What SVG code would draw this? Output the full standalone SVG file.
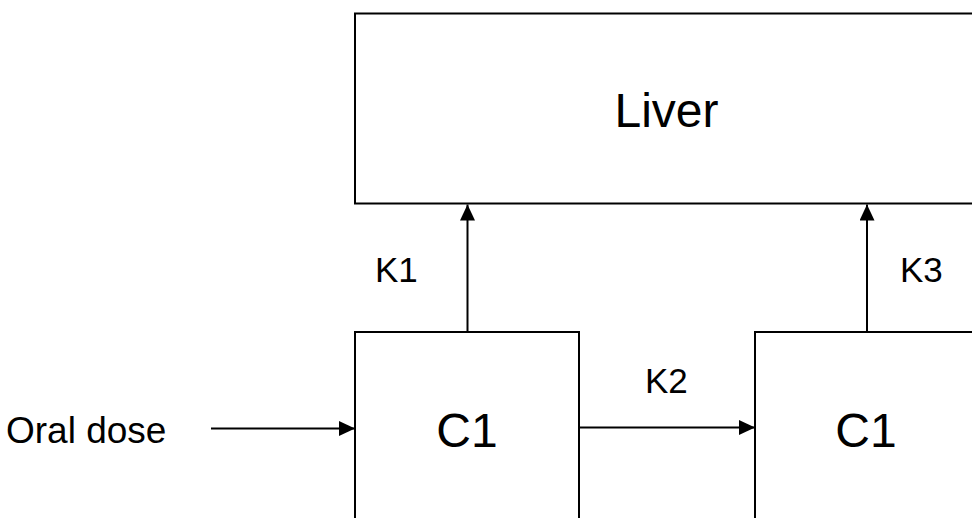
<svg xmlns="http://www.w3.org/2000/svg" width="972" height="518" viewBox="0 0 972 518">
<style>
.box{fill:#fff;stroke:#000;stroke-width:2}
.lbl{font-family:"Liberation Sans",Arial,sans-serif;fill:#000}
.big{font-size:48px;text-anchor:middle}
.k{font-size:35px}
.edge{stroke:#000;stroke-width:2;fill:none;marker-end:url(#ah)}
</style>
<defs>
<marker id="ah" markerWidth="16" markerHeight="15" refX="16" refY="7.5" orient="auto" markerUnits="userSpaceOnUse">
<path d="M0,0 L16,7.5 L0,15 Z" fill="#000"/>
</marker>
</defs>
<rect width="972" height="518" fill="#fff"/>
<g id="liver">
<rect class="box" x="355" y="13.5" width="623" height="190" stroke-width="2.5"/>
<text class="lbl big" x="666.5" y="127">Liver</text>
</g>
<g id="c1a">
<rect class="box" x="355" y="332" width="224" height="200"/>
<text class="lbl big" x="467" y="447">C1</text>
</g>
<g id="c1b">
<rect class="box" x="755" y="332" width="240" height="200"/>
<text class="lbl big" x="866" y="447">C1</text>
</g>
<g id="oral">
<text class="lbl" x="6" y="443" font-size="37">Oral dose</text>
</g>
<g id="connectors">
<line class="edge" x1="211" y1="428.5" x2="355" y2="428.5"/>
<line class="edge" x1="579" y1="427.5" x2="755" y2="427.5"/>
<line class="edge" x1="467.5" y1="332" x2="467.5" y2="204.5"/>
<line class="edge" x1="867" y1="332" x2="867" y2="204.5"/>
<text class="lbl k" x="375" y="282">K1</text>
<text class="lbl k" x="645" y="393">K2</text>
<text class="lbl k" x="900" y="282">K3</text>
</g>
</svg>
